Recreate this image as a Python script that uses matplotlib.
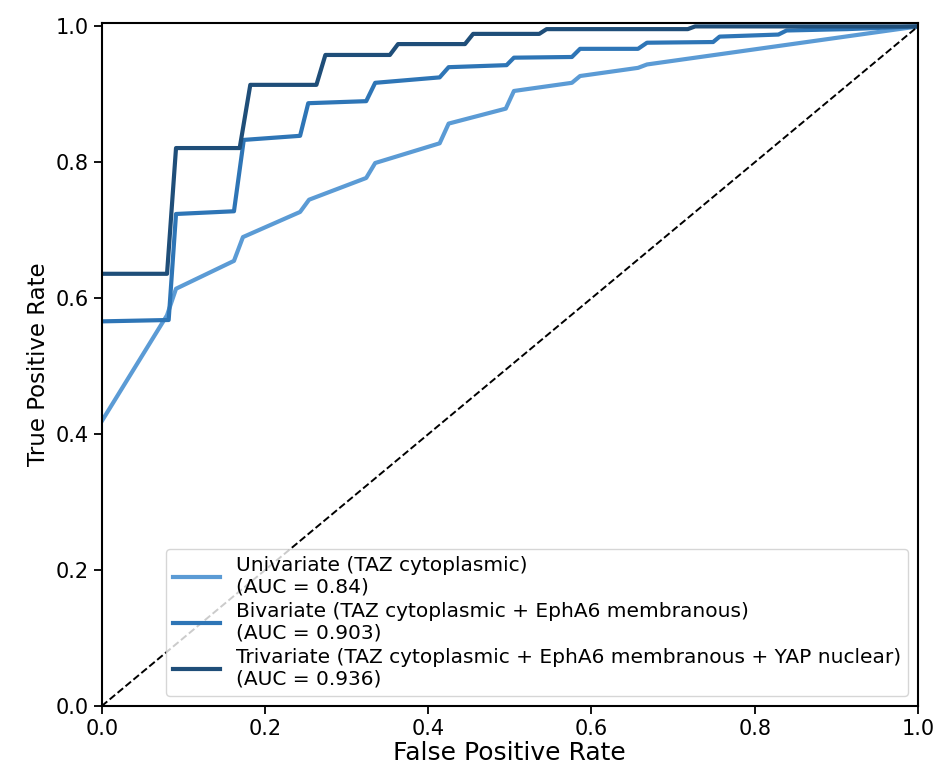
import numpy as np
import matplotlib
matplotlib.use('Agg')
import matplotlib.pyplot as plt

# ROC points
uni_fpr = [0.0, 0.080, 0.091, 0.162, 0.173, 0.243, 0.254, 0.324, 0.335, 0.414, 0.425, 0.495, 0.505, 0.576, 0.586, 0.657, 0.668, 1.0]
uni_tpr = [0.419, 0.575, 0.614, 0.655, 0.690, 0.727, 0.745, 0.777, 0.799, 0.828, 0.857, 0.879, 0.905, 0.917, 0.927, 0.939, 0.944, 1.0]

bi_fpr = [0.0, 0.082, 0.091, 0.162, 0.174, 0.243, 0.253, 0.324, 0.335, 0.414, 0.425, 0.496, 0.505, 0.576, 0.586, 0.657, 0.668, 0.749, 0.757, 0.829, 0.839, 0.913, 1.0]
bi_tpr = [0.566, 0.568, 0.724, 0.728, 0.833, 0.839, 0.887, 0.890, 0.917, 0.925, 0.940, 0.943, 0.954, 0.955, 0.967, 0.967, 0.976, 0.977, 0.985, 0.988, 0.994, 0.996, 1.0]

tri_fpr = [0.0, 0.080, 0.091, 0.169, 0.182, 0.263, 0.274, 0.353, 0.363, 0.445, 0.455, 0.536, 0.545, 0.718, 0.727, 1.0]
tri_tpr = [0.636, 0.636, 0.821, 0.821, 0.914, 0.914, 0.958, 0.958, 0.974, 0.974, 0.989, 0.989, 0.996, 0.996, 1.0, 1.0]

labels = ['Univariate (TAZ cytoplasmic)\n(AUC = 0.84)',
          'Bivariate (TAZ cytoplasmic + EphA6 membranous)\n(AUC = 0.903)',
          'Trivariate (TAZ cytoplasmic + EphA6 membranous + YAP nuclear)\n(AUC = 0.936)']
colors = ['#5b9bd5', '#2e75b6', '#1f4e79']

fig = plt.figure(figsize=(9.42, 7.67), dpi=100)
ax = fig.add_axes([0.108, 0.0795, 0.8665, 0.8905])

ax.plot(uni_fpr, uni_tpr, color=colors[0], lw=3, label=labels[0])
ax.plot(bi_fpr, bi_tpr, color=colors[1], lw=3, label=labels[1])
ax.plot(tri_fpr, tri_tpr, color=colors[2], lw=3, label=labels[2])
ax.plot([0, 1], [0, 1], 'k--', lw=1.4)

ax.set_xlim(0, 1)
ax.set_ylim(0, 1.005)
ax.set_xticks(np.arange(0, 1.01, 0.2))
ax.set_yticks(np.arange(0, 1.01, 0.2))
ax.tick_params(labelsize=15, width=1.3, length=6)
for s in ax.spines.values():
    s.set_linewidth(1.5)
ax.set_xlabel('False Positive Rate', fontsize=18, labelpad=1)
ax.set_ylabel('True Positive Rate', fontsize=16.5)
ax.legend(loc='lower right', fontsize=14.5, handlelength=2.3, labelspacing=0.25,
          borderpad=0.35, handletextpad=0.8, borderaxespad=0.5)

fig.savefig('out.png', dpi=100)
